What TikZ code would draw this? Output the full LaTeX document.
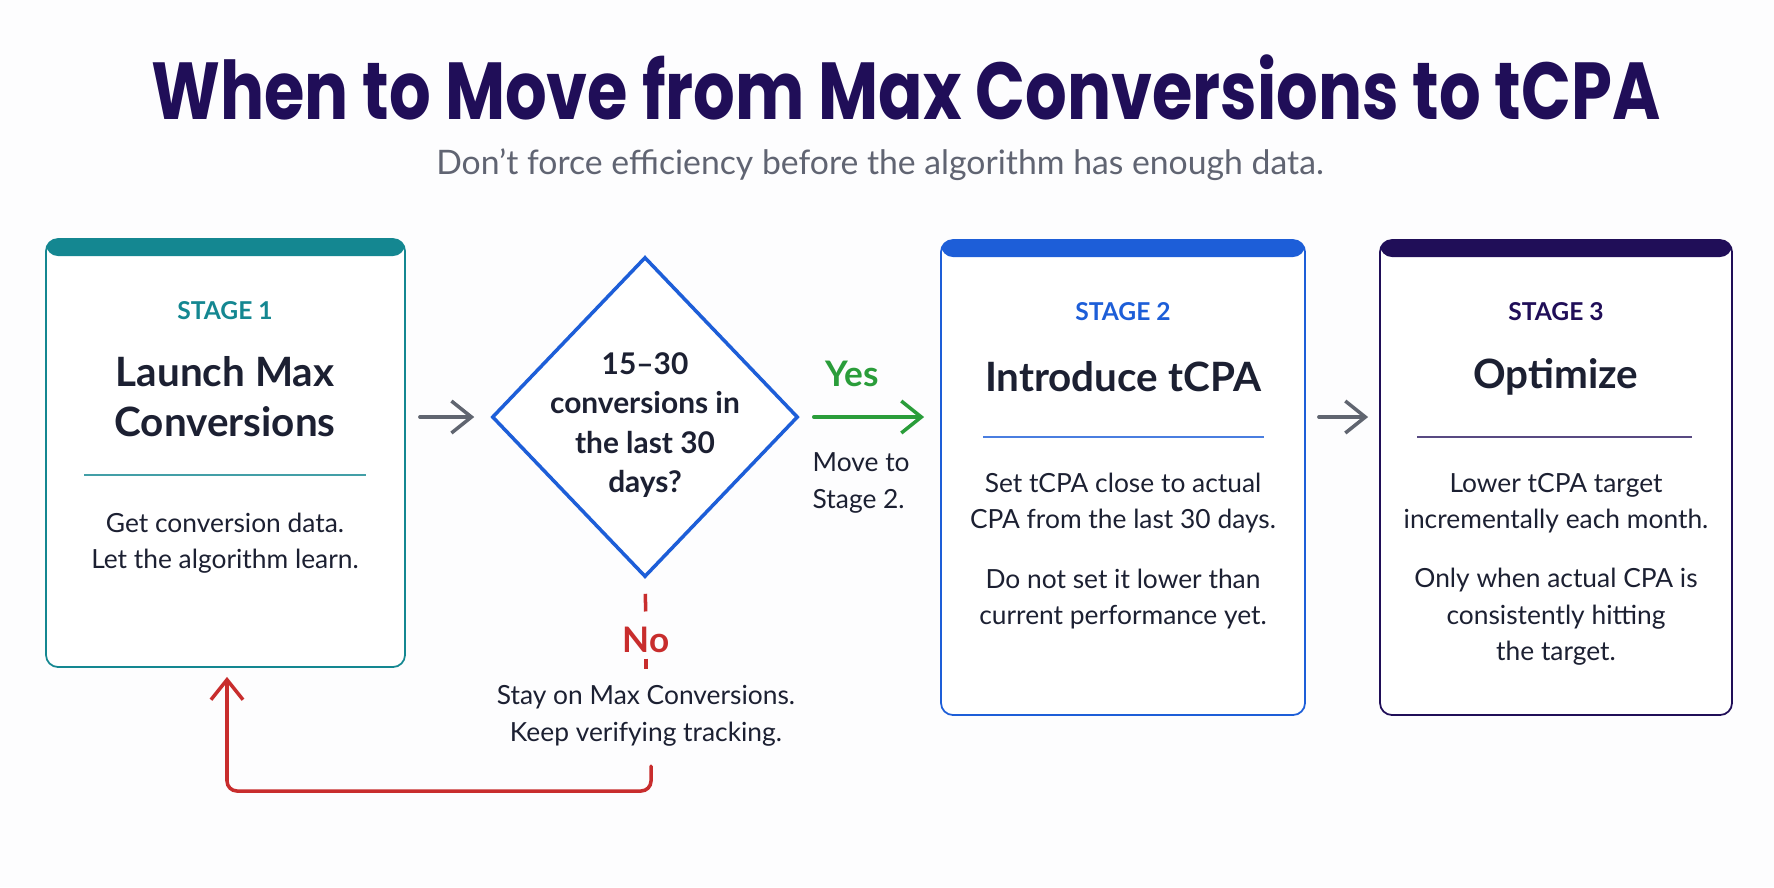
\documentclass[tikz,border=0pt]{standalone}
\usepackage{fontspec}
\setmainfont{Lato}
\newfontfamily\TitleFont[FakeStretch=0.81]{Poppins}
\usepackage{xcolor}
\definecolor{Teal}{RGB}{20,135,145}
\definecolor{Blue}{RGB}{29,94,216}
\definecolor{Navy}{RGB}{32,14,88}
\definecolor{Ink}{RGB}{28,32,50}
\definecolor{Mute}{RGB}{96,100,114}
\definecolor{ArrowGray}{RGB}{96,101,112}
\definecolor{Go}{RGB}{42,157,58}
\definecolor{Stop}{RGB}{200,45,45}
\definecolor{Paper}{RGB}{253,253,254}
\usepackage{tikz}
\usetikzlibrary{shapes.geometric}
\usetikzlibrary{arrows.meta}
\tikzset{StageBox/.style={rectangle,rounded corners=1.2mm,draw=#1,line width=.5pt,
fill=white,minimum width=35.9mm,minimum height=42.8mm,
path picture={\fill[#1](path picture bounding box.north west)
rectangle([yshift=-1.7mm]path picture bounding box.north east);}}}
\tikzstyle{Decision}=[diamond,draw=Blue,line width=1pt,fill=white,
minimum width=30.6mm,minimum height=32mm,inner sep=0pt]
\tikzstyle{Title}=[font=\TitleFont\bfseries\fontsize{23}{28}\selectfont,text=Navy,inner sep=0pt]
\tikzstyle{Sub}=[font=\fontsize{9.6}{12}\selectfont,text=Mute,inner sep=0pt]
\tikzstyle{Tag}=[font=\bfseries\fontsize{7}{8}\selectfont,inner sep=0pt]
\tikzstyle{Head}=[font=\bfseries\fontsize{11.5}{14.2}\selectfont,text=Ink,align=center,inner sep=0pt]
\tikzstyle{Body}=[font=\fontsize{7.5}{10.4}\selectfont,text=Ink,align=center,inner sep=0pt]
\tikzstyle{Ask}=[font=\bfseries\fontsize{8.5}{11.2}\selectfont,text=Ink,align=center,inner sep=0pt]
\tikzstyle{Answer}=[font=\bfseries\fontsize{10}{12}\selectfont,inner sep=0pt]
\tikzstyle{Rule}=[line width=.5pt]
\tikzstyle{Flow}=[-{Straight Barb[length=2mm,width=3.2mm]},line width=1pt,line cap=round]
\tikzstyle{StopLine}=[draw=Stop,line width=1pt]

\begin{document}
\begin{tikzpicture}[x=0.1mm,y=-0.1mm]
        \fill[Paper](0,0)rectangle(1774,887);
        \useasboundingbox(0,0)rectangle(1774,887);
        \node[Title](title)at(906,87){When to Move from Max Conversions to tCPA};
        \node[Sub](sub)at(880,165){Don’t force efficiency before the algorithm has enough data.};
        \node[StageBox=Teal](s1)at(225.5,453){};
        \node[StageBox=Blue,minimum width=36.4mm,minimum height=47.5mm](s2)at(1123,477.5){};
        \node[StageBox=Navy,minimum width=35.2mm,minimum height=47.5mm](s3)at(1556,477.5){};
        \node[Decision](d)at(645,417){};
        \node[Tag,text=Teal](s1t)at(225,311){STAGE 1};
        \node[Head](s1h)at(225,397){Launch Max\\Conversions};
        \draw[Rule,Teal!80](84,475)--(366,475);
        \node[Body](s1b)at(225,543){Get conversion data.\\Let the algorithm learn.};
        \node[Ask](dq)at(645,425){15–30\\conversions in\\the last 30\\days?};
        \node[Tag,text=Blue](s2t)at(1123,312){STAGE 2};
        \node[Head](s2h)at(1123,377){Introduce tCPA};
        \draw[Rule,Blue!80](983,437)--(1264,437);
        \node[Body](s2a)at(1123,503){Set tCPA close to actual\\CPA from the last 30 days.};
        \node[Body](s2b)at(1123,599){Do not set it lower than\\current performance yet.};
        \node[Tag,text=Navy](s3t)at(1556,312){STAGE 3};
        \node[Head](s3h)at(1556,377){Optimize};
        \draw[Rule,Navy!75](1417,437)--(1692,437);
        \node[Body](s3a)at(1556,503){Lower tCPA target\\incrementally each month.};
        \node[Body](s3b)at(1556,617){Only when actual CPA is\\consistently hitting\\the target.};
        \node[Answer,text=Go](yes)at(852,374){Yes};
        \node[Body,align=left,anchor=west](mv)at(812,483){Move to\\Stage 2.};
        \node[Answer,text=Stop](no)at(646,640){No};
        \node[Body](stay)at(646,716){Stay on Max Conversions.\\Keep verifying tracking.};
        \coordinate(nb)at(646,669);
        \coordinate(r0)at(651,766);
        \coordinate(r1)at(227,791);
        \draw[Flow,ArrowGray,shorten <=1.4mm,shorten >=1.6mm](s1.east|-d.west)--(d.west);
        \draw[Flow,Go,shorten <=1.4mm,shorten >=1.6mm](d.east)--(d.east-|s2.west);
        \draw[Flow,ArrowGray,shorten <=1.3mm,shorten >=1.1mm](s2.east|-d.east)--(s3.west|-d.east);
        \draw[StopLine,shorten <=1.5mm,shorten >=1.5mm](d.south)--(no.north);
        \draw[StopLine,shorten <=.5mm](no.south)--(nb);
        \draw[Flow,Stop,rounded corners=1mm,shorten >=.9mm](r0)|-(r1)--(r1|-s1.south);
    \end{tikzpicture}
\end{document}
